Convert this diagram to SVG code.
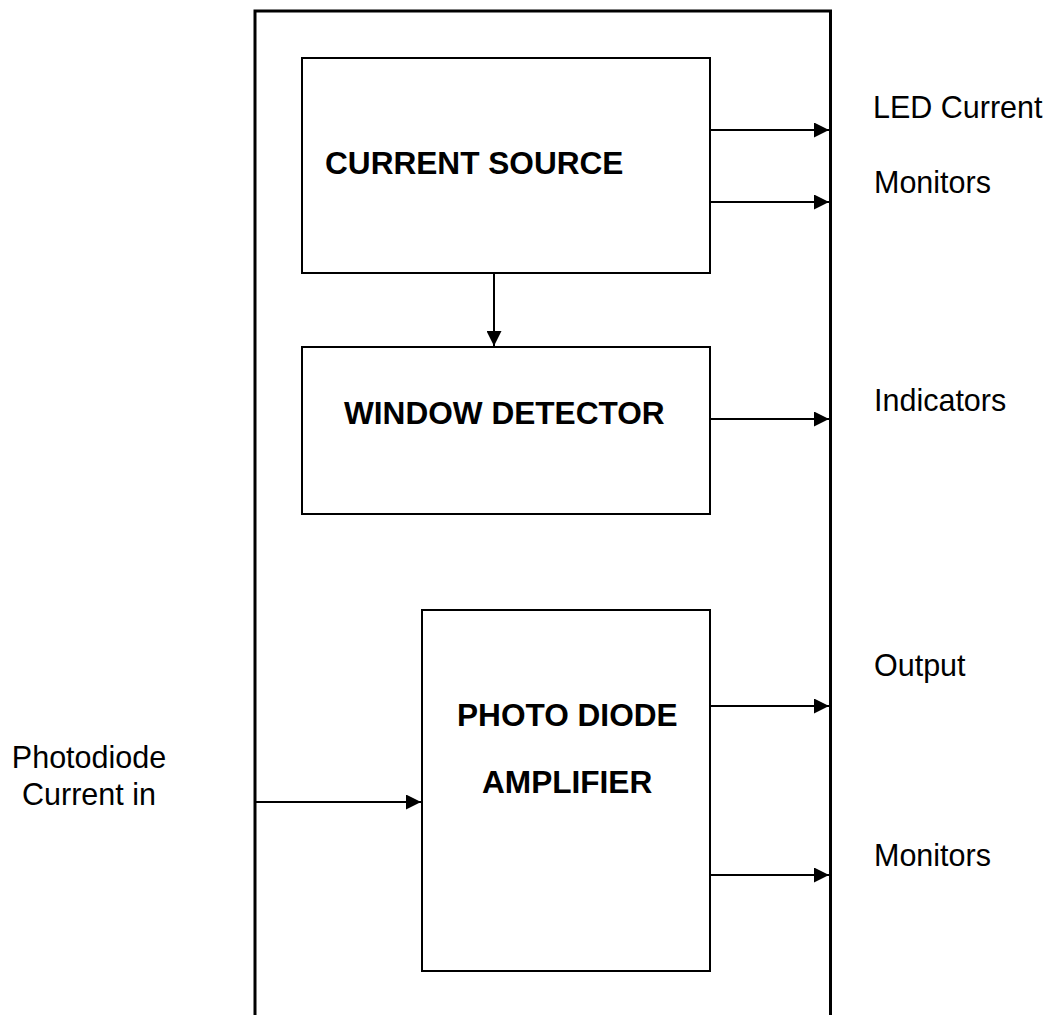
<svg xmlns="http://www.w3.org/2000/svg" width="1058" height="1015" viewBox="0 0 1058 1015">
  <style>
    .frame { fill: none; stroke: #000; stroke-width: 3; }
    .box { fill: #fff; stroke: #000; stroke-width: 2; }
    .wire { fill: none; stroke: #000; stroke-width: 2; }
    .title { font-family: "Liberation Sans", Arial, sans-serif; font-weight: bold; font-size: 31.6px; fill: #000; }
    .label { font-family: "Liberation Sans", Arial, sans-serif; font-size: 30.5px; fill: #000; }
  </style>
  <defs>
    <marker id="arrow" markerUnits="userSpaceOnUse" markerWidth="15" markerHeight="15" refX="15" refY="7.5" orient="auto">
      <path d="M0,0 L15,7.5 L0,15 z" fill="#000"/>
    </marker>
  </defs>
  <rect width="1058" height="1015" fill="#fff"/>

  <!-- enclosure: open at the bottom -->
  <path id="enclosure" class="frame" d="M255,1015 V11 H830.5 V1015"/>

  <g id="current-source">
    <rect class="box" x="302" y="58" width="408" height="215"/>
    <text class="title" x="325" y="174">CURRENT SOURCE</text>
  </g>

  <g id="window-detector">
    <rect class="box" x="302" y="347" width="408" height="167"/>
    <text class="title" x="344" y="424">WINDOW DETECTOR</text>
  </g>

  <g id="photo-diode-amplifier">
    <rect class="box" x="422" y="610" width="288" height="361"/>
    <text class="title" x="457" y="726">PHOTO DIODE</text>
    <text class="title" x="482" y="793">AMPLIFIER</text>
  </g>

  <g id="connectors">
    <line class="wire" x1="710" y1="130" x2="829" y2="130" marker-end="url(#arrow)"/>
    <line class="wire" x1="710" y1="202" x2="829" y2="202" marker-end="url(#arrow)"/>
    <line class="wire" x1="494" y1="273" x2="494" y2="346" marker-end="url(#arrow)"/>
    <line class="wire" x1="710" y1="419" x2="829" y2="419" marker-end="url(#arrow)"/>
    <line class="wire" x1="710" y1="706" x2="829" y2="706" marker-end="url(#arrow)"/>
    <line class="wire" x1="710" y1="875" x2="829" y2="875" marker-end="url(#arrow)"/>
    <line class="wire" x1="256" y1="802" x2="421" y2="802" marker-end="url(#arrow)"/>
  </g>

  <g id="labels">
    <text class="label" x="873" y="118">LED Current</text>
    <text class="label" x="874" y="193">Monitors</text>
    <text class="label" x="874" y="411">Indicators</text>
    <text class="label" x="874" y="676">Output</text>
    <text class="label" x="874" y="866">Monitors</text>
    <text class="label" x="89" y="768" text-anchor="middle">Photodiode</text>
    <text class="label" x="89" y="805" text-anchor="middle">Current in</text>
  </g>
</svg>
